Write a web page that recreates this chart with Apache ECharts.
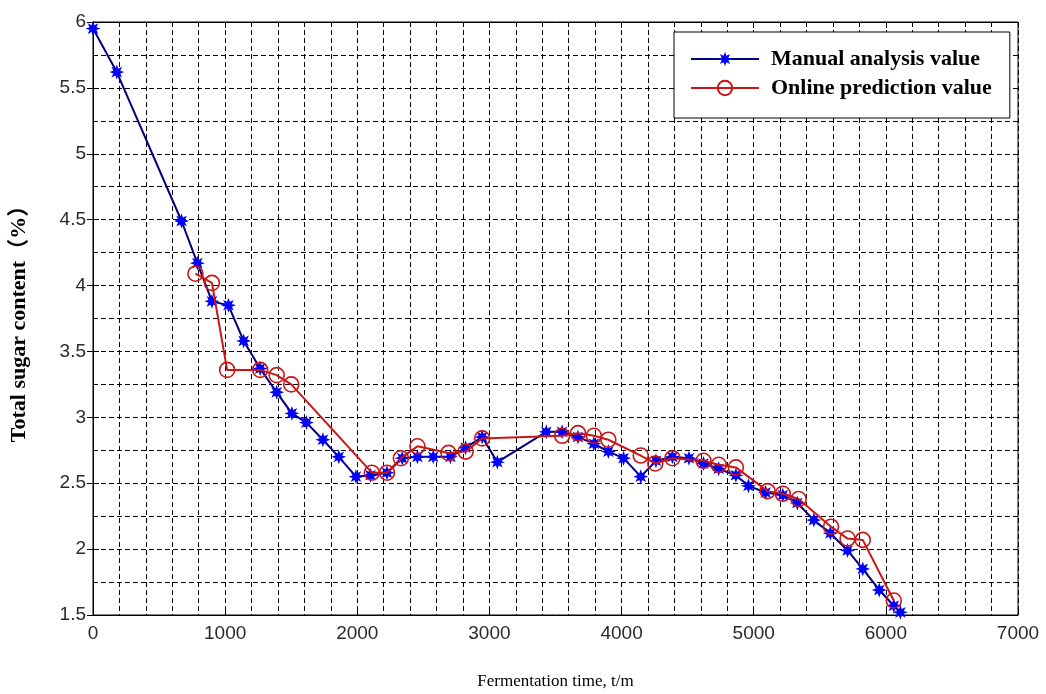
<!DOCTYPE html>
<html>
<head>
<meta charset="utf-8">
<script src="https://cdn.jsdelivr.net/npm/echarts@6/dist/echarts.min.js"></script>
<style>html,body{margin:0;padding:0;background:#fff}#c{width:1046px;height:694px}</style>
</head>
<body>
<div id="c"></div>
<script>
const manualTime = [0,180,670,790,900,1025,1140,1265,1390,1505,1615,1740,1860,1990,2100,2225,2340,2455,2575,2705,2820,2945,3060,3430,3550,3670,3790,3900,4015,4145,4260,4385,4510,4620,4735,4865,4960,5090,5220,5330,5455,5580,5710,5825,5950,6060,6110];
const manualSugar = [5.95,5.62,4.49,4.17,3.88,3.85,3.58,3.37,3.19,3.03,2.96,2.83,2.70,2.55,2.56,2.58,2.69,2.70,2.70,2.70,2.77,2.85,2.66,2.89,2.89,2.85,2.80,2.74,2.69,2.55,2.67,2.70,2.69,2.65,2.61,2.56,2.48,2.43,2.41,2.35,2.22,2.12,1.99,1.85,1.69,1.57,1.52];
const onlineTime = [775,900,1015,1265,1390,1500,2110,2225,2330,2455,2690,2820,2945,3550,3670,3790,3900,4145,4255,4385,4620,4735,4865,5105,5220,5340,5585,5710,5825,6060];
const onlineSugar = [4.09,4.02,3.36,3.36,3.32,3.25,2.58,2.58,2.69,2.78,2.73,2.74,2.84,2.86,2.88,2.86,2.83,2.71,2.65,2.69,2.67,2.64,2.62,2.44,2.42,2.38,2.17,2.08,2.07,1.61];
const seriesNames = ['Manual analysis value','Online prediction value'];
const xName = 'Fermentation time, t/m';
const yName = 'Total sugar content（%）';

const starPath = 'path://M10 0 L4.6 1.9 L7.07 7.07 L1.9 4.6 L0 10 L-1.9 4.6 L-7.07 7.07 L-4.6 1.9 L-10 0 L-4.6 -1.9 L-7.07 -7.07 L-1.9 -4.6 L0 -10 L1.9 -4.6 L7.07 -7.07 L4.6 -1.9 Z';
const dash = {color:'#000', width:1, type:[5,3]};
const labelStyle = {color:'#2a2a2a', fontSize:19, fontFamily:'Liberation Sans'};

const chart = echarts.init(document.getElementById('c'), null, {renderer:'canvas'});
chart.setOption({
  animation:false,
  backgroundColor:'#fff',
  grid:{left:93, top:22, right:28, bottom:79, show:true, borderColor:'#000', borderWidth:1, containLabel:false, outerBoundsMode:'none'},
  legend:{
    orient:'vertical', left:674, top:32,
    backgroundColor:'#fff', borderColor:'#000', borderWidth:1,
    padding:[16,18,19,16], itemGap:7, itemWidth:68, itemHeight:18,
    textStyle:{fontFamily:'Liberation Serif', fontWeight:'bold', fontSize:22, color:'#000', padding:[0,0,0,7]},
    data:seriesNames
  },
  xAxis:[{
    type:'value', min:0, max:7000, interval:1000,
    name:xName, nameLocation:'middle', nameGap:58,
    nameTextStyle:{fontFamily:'Liberation Serif', fontSize:17, color:'#000'},
    axisLine:{show:true, onZero:false, lineStyle:{color:'#000'}},
    axisTick:{show:true, inside:true, length:6, lineStyle:{color:'#000'}},
    axisLabel:Object.assign({margin:9, formatter:v=>String(v)}, labelStyle),
    splitLine:{show:true, lineStyle:dash},
    minorTick:{show:false, splitNumber:5},
    minorSplitLine:{show:true, lineStyle:dash}
  },{
    type:'value', min:0, max:7000, interval:1000, position:'top',
    axisLine:{show:true, lineStyle:{color:'#000'}},
    axisTick:{show:true, inside:true, length:6, lineStyle:{color:'#000'}},
    axisLabel:{show:false}, splitLine:{show:false}
  }],
  yAxis:[{
    type:'value', min:1.5, max:6, interval:0.5,
    name:yName, nameLocation:'middle', nameGap:63, nameRotate:90,
    nameTextStyle:{fontFamily:'Liberation Serif, Noto Sans CJK SC', fontWeight:'bold', fontSize:22, color:'#000'},
    axisLine:{show:true, onZero:false, lineStyle:{color:'#000'}},
    axisTick:{show:true, inside:true, length:6, lineStyle:{color:'#000'}},
    axisLabel:Object.assign({margin:7, formatter:v=>String(v)}, labelStyle),
    splitLine:{show:true, lineStyle:dash},
    minorTick:{show:false, splitNumber:2},
    minorSplitLine:{show:true, lineStyle:dash}
  },{
    type:'value', min:1.5, max:6, interval:0.5, position:'right',
    axisLine:{show:true, lineStyle:{color:'#000'}},
    axisTick:{show:true, inside:true, length:6, lineStyle:{color:'#000'}},
    axisLabel:{show:false}, splitLine:{show:false}
  }],
  series:[{
    name:seriesNames[0], type:'line',
    data:manualTime.map((t,i)=>[t, manualSugar[i]]),
    symbol:starPath, symbolSize:15,
    lineStyle:{color:'#00007a', width:2},
    itemStyle:{color:'#0000ff', borderWidth:0},
    z:2
  },{
    name:seriesNames[1], type:'line',
    data:onlineTime.map((t,i)=>[t, onlineSugar[i]]),
    symbol:'circle', symbolSize:15,
    lineStyle:{color:'#cc1515', width:2},
    itemStyle:{color:'rgba(255,255,255,0)', borderColor:'#cc1515', borderWidth:1.6},
    z:3
  }]
});
</script>
</body>
</html>
